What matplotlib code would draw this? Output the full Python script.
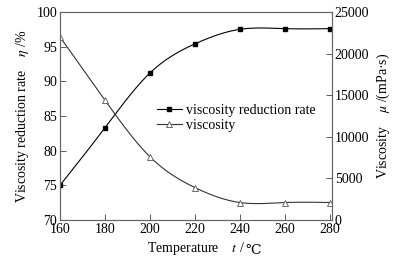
import matplotlib
matplotlib.use("Agg")
import matplotlib.pyplot as plt
import numpy as np

plt.rcParams["font.family"] = ["Liberation Serif", "DejaVu Serif"]
plt.rcParams["mathtext.fontset"] = "stix"

temps = [160, 180, 200, 220, 240, 260, 280]
reduction_rate = [75.0, 83.3, 91.2, 95.4, 97.5, 97.6, 97.6]
viscosity = [22000, 14400, 7600, 3900, 2100, 2100, 2100]


def spline(x, y, n=200):
    # natural cubic spline, only for drawing the smooth line
    x = np.asarray(x, float)
    y = np.asarray(y, float)
    k = len(x)
    h = np.diff(x)
    A = np.zeros((k, k))
    b = np.zeros(k)
    A[0, 0] = A[-1, -1] = 1
    for i in range(1, k - 1):
        A[i, i - 1] = h[i - 1]
        A[i, i] = 2 * (h[i - 1] + h[i])
        A[i, i + 1] = h[i]
        b[i] = 6 * ((y[i + 1] - y[i]) / h[i] - (y[i] - y[i - 1]) / h[i - 1])
    m = np.linalg.solve(A, b)
    xs = np.linspace(x[0], x[-1], n)
    idx = np.clip(np.searchsorted(x, xs) - 1, 0, k - 2)
    t0 = xs - x[idx]
    t1 = x[idx + 1] - xs
    hh = h[idx]
    ys = (m[idx] * t1 ** 3 + m[idx + 1] * t0 ** 3) / (6 * hh) \
        + (y[idx] / hh - m[idx] * hh / 6) * t1 \
        + (y[idx + 1] / hh - m[idx + 1] * hh / 6) * t0
    return xs, ys


fig = plt.figure(figsize=(3.97, 2.58), dpi=100)
ax = fig.add_axes([60 / 397, 38 / 258, 272 / 397, 208 / 258])
ax2 = ax.twinx()

xs, ys = spline(temps, reduction_rate)
ax.plot(xs, ys, color="black", lw=0.8)
ax.plot(temps, reduction_rate, ls="none", marker="s", ms=3.5,
        color="black")
xs, ys = spline(temps, viscosity)
ax2.plot(xs, ys, color="#333333", lw=0.8)
ax2.plot(temps, viscosity, ls="none", marker="^", ms=4,
         mfc="white", mec="#555555", mew=0.6)

h1, = ax.plot([], [], color="black", lw=0.8, marker="s", ms=3.5)
h2, = ax.plot([], [], color="#333333", lw=0.8, marker="^", ms=4,
              mfc="white", mec="#555555", mew=0.6)
ax.legend([h1, h2], ["viscosity reduction rate", "viscosity"],
          loc="center left", bbox_to_anchor=(0.33, 0.49), frameon=False,
          fontsize=10, handlelength=1.8, handletextpad=0.3,
          labelspacing=0.15, borderpad=0)

ax.set_xlim(160, 281)
ax.set_ylim(70, 100)
ax2.set_ylim(0, 25000)
ax.set_xticks([160, 180, 200, 220, 240, 260, 280])
ax.set_yticks([70, 75, 80, 85, 90, 95, 100])
ax2.set_yticks([0, 5000, 10000, 15000, 20000, 25000])

for a in (ax, ax2):
    a.tick_params(direction="in", labelsize=10, length=4, width=0.6,
                  pad=2, color="#444444")
    for s in a.spines.values():
        s.set_color("#666666")
        s.set_linewidth(0.8)
ax.tick_params(top=False)

xl = ax.set_xlabel(r"Temperature    $t$ /", fontsize=10, labelpad=3)
ax.annotate("℃", xy=(1, 0), xycoords=xl, va="bottom", ha="left",
            fontsize=10, family="DejaVu Serif")
ax.set_ylabel(r"Viscosity reduction rate    $\eta$ /%", fontsize=10,
              labelpad=4)
ax2.set_ylabel(r"Viscosity    $\mu$ /(mPa·s)", fontsize=10, labelpad=4)

fig.savefig("out.png", dpi=100)
